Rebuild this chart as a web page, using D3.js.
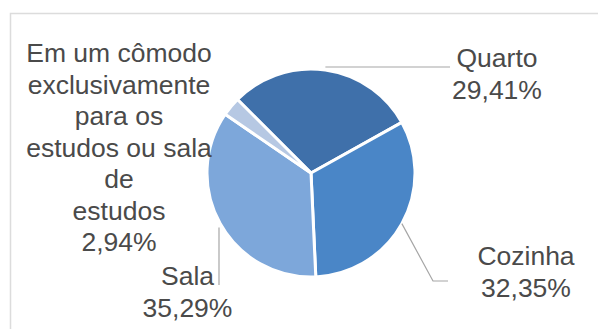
<!DOCTYPE html>
<html>
<head>
<meta charset="utf-8">
<script src="https://cdn.jsdelivr.net/npm/d3@7"></script>
<style>
  html, body { margin: 0; padding: 0; background: #fff; }
  svg { display: block; }
  text { font-family: "Liberation Sans", Arial, sans-serif; fill: #4a4a4a; }
</style>
</head>
<body>
<script>
// Onde os estudantes estudam em casa
const categories = ["Quarto", "Cozinha", "Sala", "Em um cômodo exclusivamente para os estudos ou sala de estudos"];
const values = [29.41, 32.35, 35.29, 2.94];
const labelLines = [
  ["Quarto", "29,41%"],
  ["Cozinha", "32,35%"],
  ["Sala", "35,29%"],
  ["Em um cômodo", "exclusivamente", "para os", "estudos ou sala", "de", "estudos", "2,94%"]
];
const colors = ["#3f70aa", "#4a86c7", "#7da7da", "#b6c8e3"];

const W = 598, H = 329;
const cx = 311, cy = 173, R = 104;
const fontSize = 26.5, lineH = 31.5;

const svg = d3.select("body").append("svg")
  .attr("width", W).attr("height", H);

// chart area frame (only top and left edges fall inside the view)
svg.append("rect")
  .attr("x", 10.5).attr("y", 13.5)
  .attr("width", 700).attr("height", 400)
  .attr("fill", "#fff")
  .attr("stroke", "#dcdcdc").attr("stroke-width", 1.5);

const pie = d3.pie().sort(null)
  .startAngle(-Math.PI / 4).endAngle(-Math.PI / 4 + 2 * Math.PI)
  .value(d => d);
const arcs = pie(values);
const arc = d3.arc().innerRadius(0).outerRadius(R);

const g = svg.append("g").attr("transform", `translate(${cx},${cy})`);
g.selectAll("path").data(arcs).enter().append("path")
  .attr("d", arc)
  .attr("fill", (d, i) => colors[i])
  .attr("stroke", "#fff").attr("stroke-width", 3).attr("stroke-linejoin", "round");

// label placement: anchor x, first baseline, leader path
const edge = a => {
  const m = (a.startAngle + a.endAngle) / 2;
  return [cx + R * Math.sin(m), cy - R * Math.cos(m)];
};
const labelPos = [
  { x: 497, y: 67, leader: p => [[p[0], 67], [450, 67]] },
  { x: 526, y: 265, leader: p => [p, [433, 281], [448, 281]] },
  { x: 187.5, y: 285, leader: p => [[219, p[1] + 4], [219, 285]] },
  { x: 119, y: 62, leader: null }
];

const line = d3.line();
arcs.forEach((a, i) => {
  const lp = labelPos[i];
  if (lp.leader) {
    svg.append("path")
      .attr("d", line(lp.leader(edge(a))))
      .attr("fill", "none")
      .attr("stroke", "#a6a6a6").attr("stroke-width", 1.2);
  }
  const t = svg.append("text")
    .attr("text-anchor", "middle")
    .attr("font-size", fontSize);
  labelLines[i].forEach((s, k) => {
    t.append("tspan").attr("x", lp.x).attr("y", lp.y + k * lineH).text(s);
  });
});
</script>
</body>
</html>
